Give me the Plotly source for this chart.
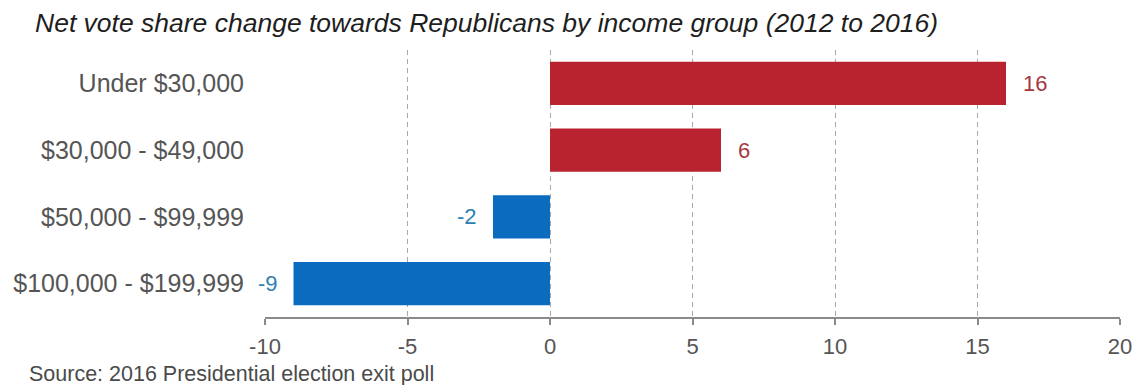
import plotly.graph_objects as go

categories = ["Under $30,000", "$30,000 - $49,000", "$50,000 - $99,999", "$100,000 - $199,999"]
values = [16, 6, -2, -9]
x_ticks = [-10, -5, 0, 5, 10, 15, 20]
x_range = [-10, 20]

RED = "#B8232F"
BLUE = "#0A6BBF"
RED_TXT = "#A8383F"
BLUE_TXT = "#2E7FB5"
FONT = "Liberation Sans, Arial, sans-serif"

# the page body has an 8px margin; the figure is sized to fit the window
W, H = 1143 - 8, 385 - 8

bar_colors = [RED if v >= 0 else BLUE for v in values]
txt_colors = [RED_TXT if v >= 0 else BLUE_TXT for v in values]

fig = go.Figure()
fig.add_trace(go.Bar(
    x=values, y=categories, orientation="h",
    marker=dict(color=bar_colors, line=dict(width=0)),
    width=0.65, showlegend=False, hoverinfo="skip",
))

annotations = []
for c, v, tc in zip(categories, values, txt_colors):
    annotations.append(dict(
        x=v, y=c, xref="x", yref="y", text=str(v), showarrow=False,
        xanchor="left" if v >= 0 else "right",
        xshift=15 if v >= 0 else -14,
        font=dict(size=22, color=tc, family=FONT),
    ))

margin = dict(l=257, r=23, t=42, b=68)
plot_w = W - margin["l"] - margin["r"]
plot_h = H - margin["t"] - margin["b"]

annotations.append(dict(
    text="Source: 2016 Presidential election exit poll",
    xref="paper", yref="paper",
    x=(19 - margin["l"]) / plot_w, y=-(366 - margin["t"] - plot_h) / plot_h,
    xanchor="left", yanchor="middle",
    showarrow=False, font=dict(size=21.5, color="#4a4a4a", family=FONT),
))

zero_pos = (0 - x_range[0]) / (x_range[1] - x_range[0])

fig.update_layout(
    width=W, height=H,
    margin=dict(margin, autoexpand=False),
    paper_bgcolor="white", plot_bgcolor="white",
    font=dict(family=FONT, color="#555"),
    title=dict(
        text="<i>Net vote share change towards Republicans by income group (2012 to 2016)</i>",
        x=27 / W, xref="container", xanchor="left",
        y=1 - 15 / H, yref="container", yanchor="middle",
        font=dict(size=26.5, color="#1e1e1e", family=FONT),
    ),
    xaxis=dict(
        range=x_range, tickvals=x_ticks, ticktext=[str(t) for t in x_ticks],
        showgrid=True, gridcolor="#a8a8a8", griddash="5px,4px", gridwidth=1,
        zeroline=False, showline=True, linecolor="#8a8a8a", linewidth=1.5,
        ticks="outside", ticklen=6, tickcolor="#8a8a8a", tickwidth=1.5,
        tickfont=dict(size=22, color="#555"), ticklabelstandoff=3,
        automargin=False,
    ),
    yaxis=dict(
        type="category", categoryorder="array", categoryarray=categories,
        autorange="reversed", showgrid=False, zeroline=False, showline=False,
        ticks="", tickfont=dict(size=25, color="#555"), ticklabelstandoff=20,
        automargin=False,
    ),
    yaxis2=dict(
        overlaying="y", anchor="free", position=zero_pos, side="left",
        range=[-0.5, len(categories) - 0.5],
        tickvals=[i - 0.5 for i in range(len(categories) + 1)],
        showticklabels=False, ticks="outside", ticklen=5, tickcolor="#8a8a8a",
        showline=True, linecolor="#8a8a8a", linewidth=1.5,
        showgrid=False, zeroline=False, automargin=False,
    ),
    annotations=annotations,
)

fig.write_html("out.html")
